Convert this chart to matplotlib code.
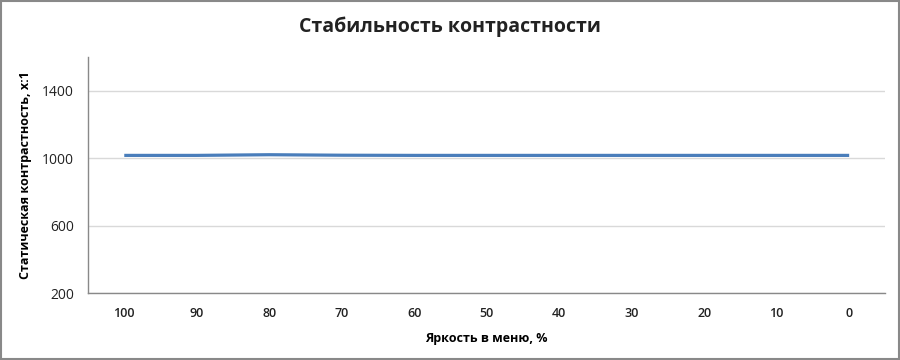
import matplotlib.pyplot as plt
from matplotlib.patches import Rectangle

# Данные графика
brightness = ["100", "90", "80", "70", "60", "50", "40", "30", "20", "10", "0"]
contrast = [1016, 1016, 1020, 1017, 1016, 1016, 1016, 1016, 1016, 1016, 1016]
y_ticks = [200, 600, 1000, 1400]

plt.rcParams["font.family"] = ["Open Sans", "DejaVu Sans"]

fig = plt.figure(figsize=(9, 3.6), dpi=100)
ax = fig.add_axes([0.0978, 0.186, 0.886, 0.656])

x = range(len(brightness))
ax.plot(x, contrast, color="#4a7ebb", linewidth=2.3, solid_capstyle="butt", zorder=3)

ax.set_xlim(-0.5, len(brightness) - 0.5)
ax.set_ylim(200, 1600)
ax.set_xticks(list(x))
ax.set_xticklabels(brightness, fontsize=9, fontweight="semibold")
ax.set_yticks(y_ticks)
ax.set_yticklabels([str(v) for v in y_ticks], fontsize=10)
ax.tick_params(axis="both", length=0, pad=10, colors="#222222")
ax.grid(axis="y", color="#d9d9d9", linewidth=1)
ax.set_axisbelow(True)

for side in ["top", "right"]:
    ax.spines[side].set_visible(False)
for side in ["left", "bottom"]:
    ax.spines[side].set_color("#898989")
    ax.spines[side].set_linewidth(1)

ax.set_xlabel("Яркость в меню, %", fontsize=9, fontweight="bold", labelpad=9)
ax.set_ylabel("Статическая контрастность, x:1", fontsize=9, fontweight="bold", labelpad=7)
fig.suptitle("Стабильность контрастности", fontsize=14, fontweight="bold", y=0.955, color="#222222")

# рамка вокруг всей картинки
fig.patches.append(Rectangle((0.001, 0.002), 0.998, 0.995, transform=fig.transFigure,
                             fill=False, edgecolor="#898989", linewidth=1.5))

fig.savefig("out.png", dpi=100)
